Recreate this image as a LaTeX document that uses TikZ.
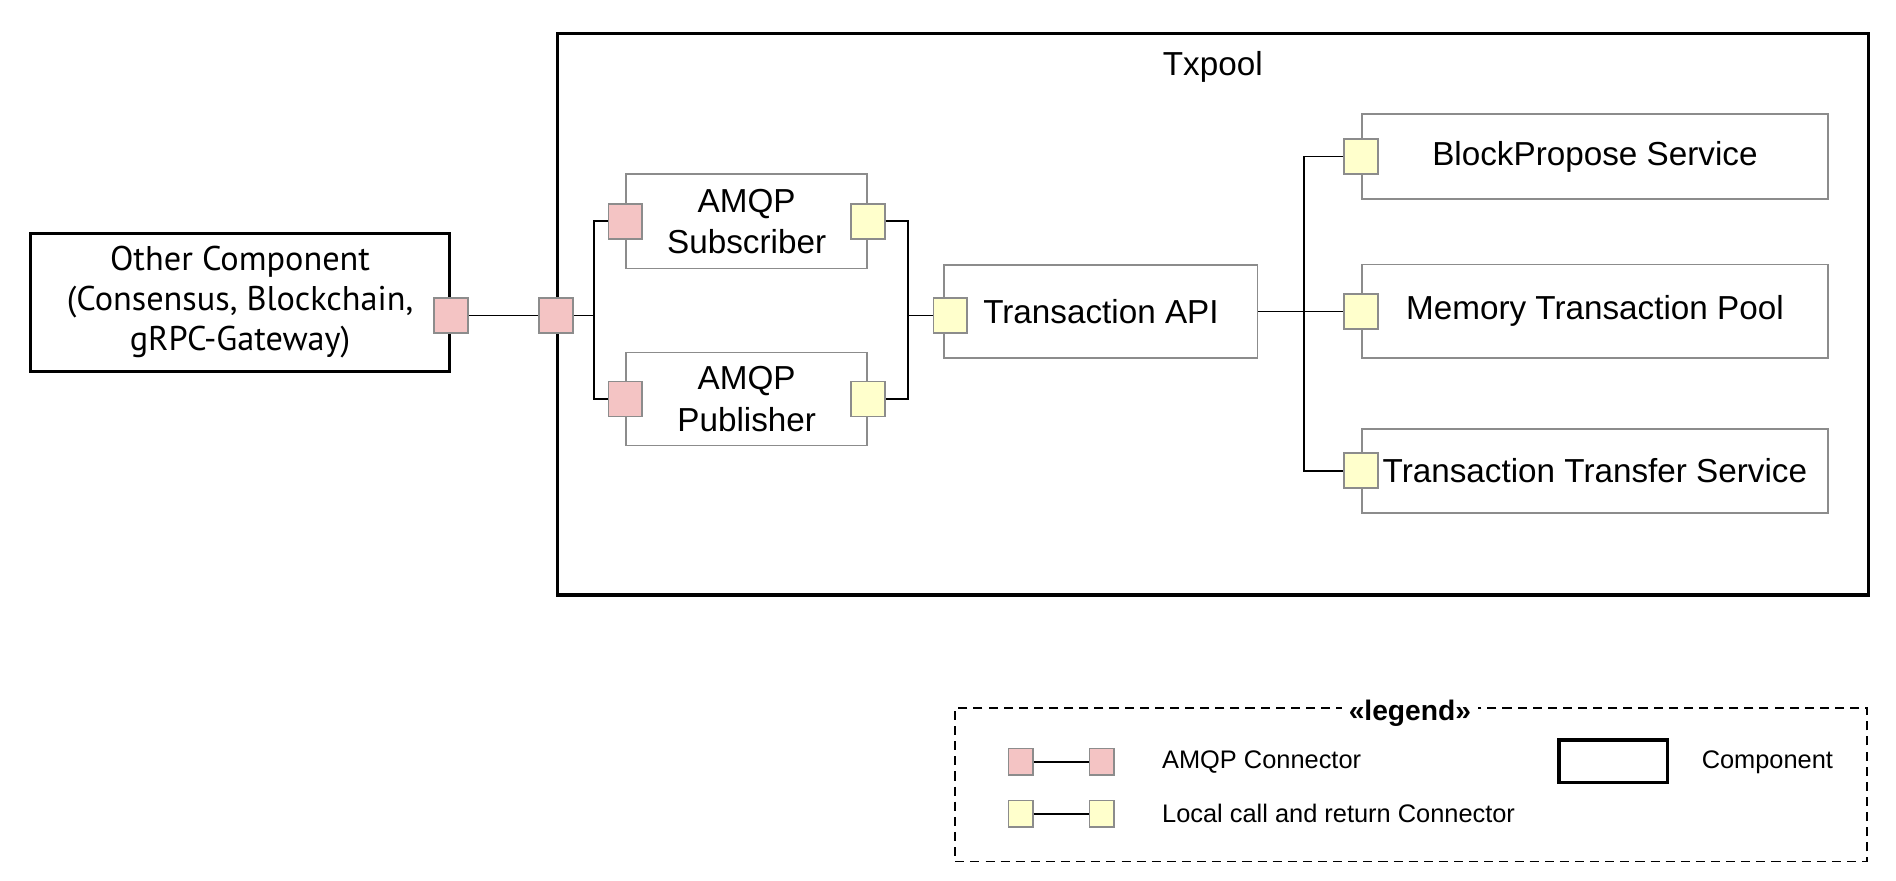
\documentclass[tikz,border=0pt]{standalone}
\usepackage{fontspec}
\setmainfont{Liberation Sans}
\newfontfamily\othfont{PT Sans}
\usepackage{tikz}
\usetikzlibrary{positioning}
\definecolor{amqpred}{RGB}{244,196,196}
\definecolor{localyel}{RGB}{255,255,204}
\definecolor{partgray}{RGB}{140,140,140}
\tikzset{
  comp/.style={draw, line width=1.6pt},
  part/.style={draw=partgray, line width=0.9pt, align=center, font=\fontsize{16.5}{20.4}\selectfont},
  port/.style={draw=partgray, line width=0.9pt, minimum width=16.8pt, minimum height=17.4pt, inner sep=0pt},
  amqp/.style={port, fill=amqpred},
  lcall/.style={port, fill=localyel},
  legport/.style={minimum width=12pt, minimum height=13.2pt},
  wire/.style={line width=0.8pt},
  legtext/.style={anchor=west, inner xsep=0pt, font=\fontsize{12.6}{14}\selectfont},
}
\begin{document}
\begin{tikzpicture}[x=0.6pt, y=-0.6pt]
\useasboundingbox (0,0) rectangle (1568,728);
\node[comp, minimum width=208.2pt, minimum height=68.4pt, align=center, font=\othfont\fontsize{17}{19.8}\selectfont] (other) at (198.5,250) {Other Component\\(Consensus, Blockchain,\\gRPC-Gateway)};
\node[comp, minimum width=650.4pt, minimum height=278.4pt] (txpool) at (1003,260) {};
\node[font=\fontsize{16.5}{20}\selectfont] (txtitle) at (1003,55) {Txpool};
\node[part, minimum width=119.4pt, minimum height=46.8pt] (sub) at (617.5,183) {AMQP\\Subscriber};
\node[part, minimum width=119.4pt, minimum height=46.2pt] (pub) at (617.5,330) {AMQP\\Publisher};
\node[part, minimum width=155.4pt, minimum height=46.2pt] (api) at (910.5,257.5) {Transaction API};
\node[part, minimum width=231pt, minimum height=42pt] (bp) at (1319,129.5) {BlockPropose Service};
\node[part, minimum width=231pt, minimum height=46.5pt] (mem) at (1319,257.5) {Memory Transaction Pool};
\node[part, minimum width=231pt, minimum height=41.7pt] (tts) at (1319,389.3) {Transaction Transfer Service};
\node[amqp] (othport) at (373,261) {};
\node[amqp] (txport) at (460,261) {};
\node[amqp] (subin) at (sub.west) {};
\node[lcall] (subout) at (sub.east) {};
\node[amqp] (pubin) at (pub.west) {};
\node[lcall] (pubout) at (pub.east) {};
\node[lcall] (apiin) at (786,261) {};
\node[lcall] (bpin) at (bp.west) {};
\node[lcall] (memin) at (mem.west) {};
\node[lcall] (ttsin) at (tts.west) {};
\coordinate (lbus) at (491,261);
\coordinate (mbus) at (751,261);
\coordinate (rbus) at (1078.5,257.5);
\draw[wire] (othport) -- (txport) -- (lbus);
\draw[wire] (subin) -| (lbus) |- (pubin);
\draw[wire] (subout) -| (mbus) |- (pubout);
\draw[wire] (mbus) -- (apiin);
\draw[wire] (api) -- (memin);
\draw[wire] (bpin) -| (rbus) |- (ttsin);
\node[draw, line width=0.9pt, dash pattern=on 4.5pt off 3pt, minimum width=452.4pt, minimum height=76.2pt] (legend) at (1167,649) {};
\node[fill=white, inner ysep=1pt, font=\bfseries\fontsize{14}{16}\selectfont] (legtitle) at (1166,590) {«legend»};
\node[amqp, legport] (la1) at (844,630) {};
\node[amqp, legport] (la2) at (911,630) {};
\node[lcall, legport] (ll1) at (844,673) {};
\node[lcall, legport] (ll2) at (911,673) {};
\draw[wire] (la1) -- (la2);
\draw[wire] (ll1) -- (ll2);
\node[legtext, right=23.4pt of la2.east] (latext) {AMQP Connector};
\node[legtext, right=23.4pt of ll2.east] (lltext) {Local call and return Connector};
\node[comp, minimum width=53.7pt, minimum height=21pt] (lcomp) at (1334,629.5) {};
\node[legtext] (lctext) at (1407,630) {Component};
\end{tikzpicture}
\end{document}
